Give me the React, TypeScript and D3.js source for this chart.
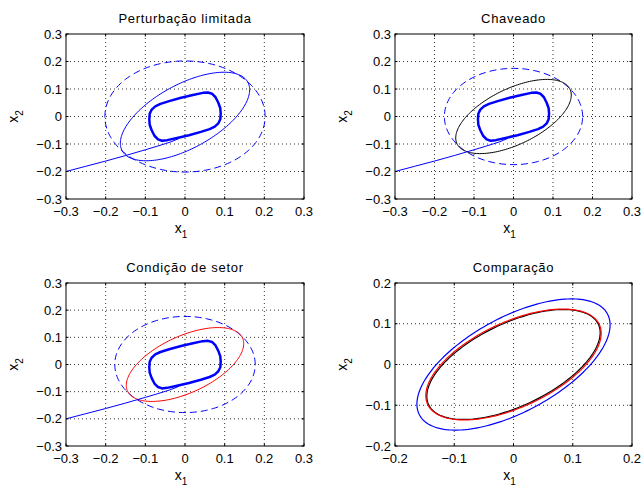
import React from "react";
import * as d3 from "d3";

const W = 643;
const H = 488;

// Titles and axis ticks
const panelTitles = ["Perturbação limitada", "Chaveado", "Condição de setor", "Comparação"];
const ticksWide = [-0.3, -0.2, -0.1, 0, 0.1, 0.2, 0.3];
const ticksNarrow = [-0.2, -0.1, 0, 0.1, 0.2];

// Limit cycle (thick blue closed curve)
const cycleX = [0.058, 0.068, 0.077, 0.084, 0.089, 0.090, 0.089, 0.084, 0.075, 0.062, 0.040, 0.010, -0.020, -0.045, -0.058, -0.068, -0.077, -0.084, -0.089, -0.090, -0.089, -0.084, -0.075, -0.062, -0.040, -0.010, 0.020, 0.045];
const cycleY = [0.087, 0.083, 0.070, 0.050, 0.030, 0.010, -0.010, -0.025, -0.037, -0.046, -0.056, -0.068, -0.078, -0.086, -0.088, -0.083, -0.070, -0.050, -0.030, -0.010, 0.010, 0.025, 0.037, 0.046, 0.056, 0.068, 0.078, 0.086];

// Trajectory from initial condition (-0.3, -0.2)
const trajX = [-0.3, -0.25, -0.2, -0.15, -0.1, -0.07, -0.05, -0.035, -0.025, -0.015];
const trajY = [-0.2, -0.181, -0.162, -0.142, -0.121, -0.108, -0.099, -0.092, -0.086, -0.080];

// Invariant ellipses x' Q^-1 x <= 1 : blue, black, red
const ellipseColors = ["#0000ff", "#000000", "#ff0000"];
const ellipseQ11 = [0.02657, 0.0214, 0.0219];
const ellipseQ12 = [0.01581, 0.0114, 0.01132];
const ellipseQ22 = [0.02592, 0.0182, 0.0185];

// Dashed (axis-aligned) region radius for panels 1-3
const dashedRadius = [0.202, 0.175, 0.177];

const FONT = "'Liberation Sans', Arial, Helvetica, sans-serif";

function ellipsePoints(i: number): [number, number][] {
  const a = Math.sqrt(ellipseQ11[i]);
  const b = ellipseQ12[i] / a;
  const c = Math.sqrt(ellipseQ22[i] - b * b);
  return d3.range(0, 361, 2).map((deg) => {
    const t = (deg * Math.PI) / 180;
    return [a * Math.cos(t), b * Math.cos(t) + c * Math.sin(t)] as [number, number];
  });
}

function circlePoints(r: number): [number, number][] {
  return d3.range(0, 361, 2).map((deg) => {
    const t = (deg * Math.PI) / 180;
    return [r * Math.cos(t), r * Math.sin(t)] as [number, number];
  });
}

const fmt = (d: number) => (Math.abs(d) < 1e-9 ? "0" : d.toFixed(1).replace("-", "\u2212"));

type Curve = { pts: [number, number][]; color: string; width: number; dash?: string; closed?: boolean };

function Panel({ x0, x1, y0, y1, ticks, title, curves }: { x0: number; x1: number; y0: number; y1: number; ticks: number[]; title: string; curves: Curve[] }) {
  const lo = ticks[0];
  const hi = ticks[ticks.length - 1];
  const xs = d3.scaleLinear().domain([lo, hi]).range([x0, x1]);
  const ys = d3.scaleLinear().domain([lo, hi]).range([y1, y0]);
  const line = d3.line<[number, number]>().x((d) => xs(d[0])).y((d) => ys(d[1]));
  const closedLine = d3.line<[number, number]>().x((d) => xs(d[0])).y((d) => ys(d[1])).curve(d3.curveLinearClosed);
  const tl = 2.5;
  const cx = (x0 + x1) / 2;
  const cy = (y0 + y1) / 2;
  return (
    <g>
      <defs>
        <clipPath id={`clip-${x0}-${y0}`}>
          <rect x={x0} y={y0} width={x1 - x0} height={y1 - y0} />
        </clipPath>
      </defs>
      <rect x={x0} y={y0} width={x1 - x0} height={y1 - y0} fill="#fff" />
      {/* grid */}
      {ticks.slice(1, -1).map((t) => (
        <g key={`g${t}`}>
          <line x1={xs(t)} x2={xs(t)} y1={y0} y2={y1} stroke="#000" strokeWidth={0.8} strokeDasharray="1,3" />
          <line x1={x0} x2={x1} y1={ys(t)} y2={ys(t)} stroke="#000" strokeWidth={0.8} strokeDasharray="1,3" />
        </g>
      ))}
      <g clipPath={`url(#clip-${x0}-${y0})`}>
        {curves.map((c, i) => (
          <path
            key={i}
            d={(c.closed ? closedLine : line)(c.pts) || ""}
            fill="none"
            stroke={c.color}
            strokeWidth={c.width}
            strokeDasharray={c.dash}
            strokeLinejoin="round"
          />
        ))}
      </g>
      {/* ticks */}
      {ticks.map((t) => (
        <g key={`t${t}`}>
          <line x1={xs(t)} x2={xs(t)} y1={y1} y2={y1 - tl} stroke="#000" />
          <line x1={xs(t)} x2={xs(t)} y1={y0} y2={y0 + tl} stroke="#000" />
          <line x1={x0} x2={x0 + tl} y1={ys(t)} y2={ys(t)} stroke="#000" />
          <line x1={x1} x2={x1 - tl} y1={ys(t)} y2={ys(t)} stroke="#000" />
          <text x={xs(t)} y={y1 + 17} textAnchor="middle" fontSize={13} fontFamily={FONT}>{fmt(t)}</text>
          <text x={x0 - 4} y={ys(t) + 4.5} textAnchor="end" fontSize={13} fontFamily={FONT}>{fmt(t)}</text>
        </g>
      ))}
      <rect x={x0} y={y0} width={x1 - x0} height={y1 - y0} fill="none" stroke="#000" strokeWidth={1} />
      <text x={cx} y={y0 - 11} textAnchor="middle" fontSize={13} fontFamily={FONT} letterSpacing={0.7}>{title}</text>
      <text x={cx - 4} y={y1 + 34} textAnchor="middle" fontSize={14} fontFamily={FONT}>
        x<tspan fontSize={10} dy={5}>1</tspan>
      </text>
      <text transform={`translate(${x0 - 48},${cy}) rotate(-90)`} textAnchor="middle" fontSize={14} fontFamily={FONT}>
        x<tspan fontSize={10} dy={5}>2</tspan>
      </text>
    </g>
  );
}

export default function App() {
  const cycle: [number, number][] = cycleX.map((x, i) => [x, cycleY[i]]);
  const traj: [number, number][] = trajX.map((x, i) => [x, trajY[i]]);
  const mk = (panel: number, ellIdx: number): Curve[] => [
    { pts: circlePoints(dashedRadius[panel]), color: "#0000ff", width: 1, dash: "7,4" },
    { pts: ellipsePoints(ellIdx), color: ellipseColors[ellIdx], width: 1 },
    { pts: traj, color: "#0000ff", width: 1 },
    { pts: cycle, color: "#0000ff", width: 2.5, closed: true },
  ];
  const comp: Curve[] = [0, 1, 2].map((i) => ({ pts: ellipsePoints(i), color: ellipseColors[i], width: 1.2 }));
  return (
    <svg width={W} height={H} style={{ position: "absolute", left: 0, top: 0, background: "#fff" }}>
      <rect width={W} height={H} fill="#fff" />
      <Panel x0={66} x1={304} y0={34} y1={199} ticks={ticksWide} title={panelTitles[0]} curves={mk(0, 0)} />
      <Panel x0={395} x1={632} y0={34} y1={199} ticks={ticksWide} title={panelTitles[1]} curves={mk(1, 1)} />
      <Panel x0={66} x1={304} y0={283} y1={446} ticks={ticksWide} title={panelTitles[2]} curves={mk(2, 2)} />
      <Panel x0={395} x1={632} y0={283} y1={446} ticks={ticksNarrow} title={panelTitles[3]} curves={comp} />
    </svg>
  );
}
